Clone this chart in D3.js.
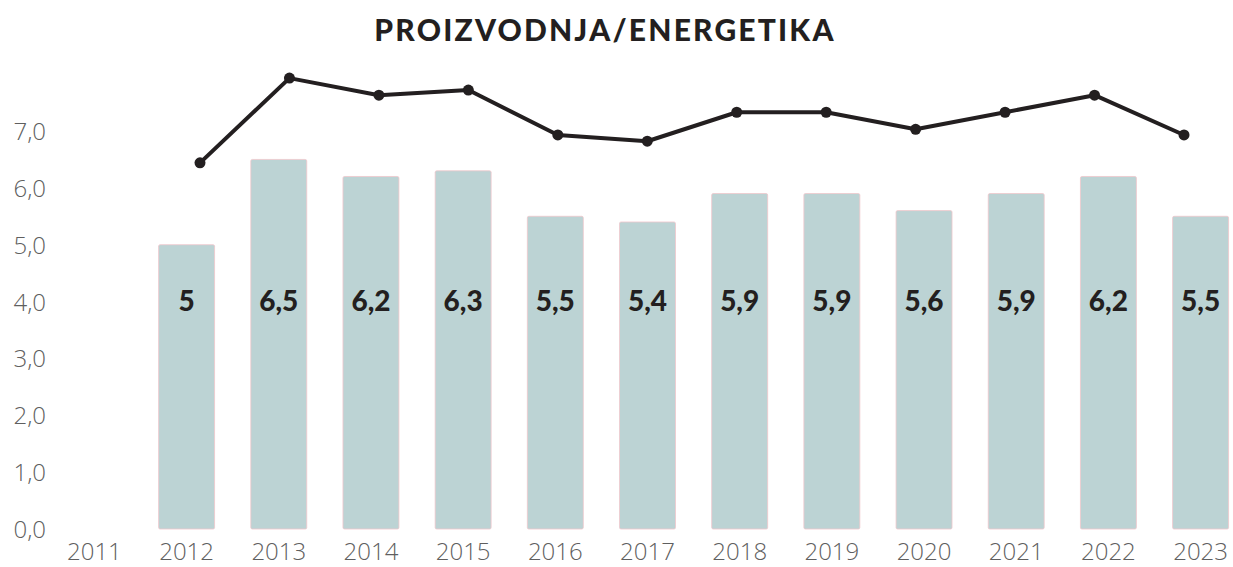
<!DOCTYPE html>
<html>
<head>
<meta charset="utf-8">
<script src="https://cdn.jsdelivr.net/npm/d3@7"></script>
<style>
  body { margin: 0; background: #fff; }
  .tick-label { font-family: "Open Sans", sans-serif; font-weight: 300; font-size: 24px; fill: #5f5f5f; }
  .title { font-family: Lato, sans-serif; font-weight: 900; font-size: 30px; fill: #231f20; letter-spacing: 2.2px; }
  .value-label { font-family: Lato, sans-serif; font-weight: 900; font-size: 28px; fill: #231f20; }
</style>
</head>
<body>
<script>
// Data
var years = ['2011', '2012', '2013', '2014', '2015', '2016', '2017', '2018', '2019', '2020', '2021', '2022', '2023'];
var barYears = ['2012', '2013', '2014', '2015', '2016', '2017', '2018', '2019', '2020', '2021', '2022', '2023'];
var barValues = [5, 6.5, 6.2, 6.3, 5.5, 5.4, 5.9, 5.9, 5.6, 5.9, 6.2, 5.5];
var lineValues = [6.44, 7.93, 7.63, 7.72, 6.93, 6.82, 7.33, 7.33, 7.03, 7.33, 7.63, 6.93];
var yTicks = [0, 1, 2, 3, 4, 5, 6, 7];
var title = 'PROIZVODNJA/ENERGETIKA';

var svg_width = 1233;
var svg_height = 567;

var svg = d3.select('body').append('svg')
  .attr('width', svg_width)
  .attr('height', svg_height);

// Scales
var y = d3.scaleLinear().domain([0, 7]).range([529, 131]);

var x = d3.scaleBand()
  .domain(years)
  .range([48, 1247])
  .paddingInner(0.393)
  .paddingOuter(0.2);

// the line sits on its own slightly narrower x range
var xLine = d3.scalePoint()
  .domain(barYears)
  .range([200, 1184]);

var fmt = function(v) { return d3.format('.1f')(v).replace('.', ','); };

// Title
svg.append('text')
  .attr('class', 'title')
  .attr('x', 605)
  .attr('y', 41)
  .attr('text-anchor', 'middle')
  .text(title);

// Y axis labels
svg.selectAll('text.y-label')
  .data(yTicks)
  .enter()
  .append('text')
  .attr('class', 'tick-label y-label')
  .attr('x', 46)
  .attr('y', function(d) { return y(d) + 9; })
  .attr('text-anchor', 'end')
  .text(fmt);

// X axis labels
svg.selectAll('text.x-label')
  .data(years)
  .enter()
  .append('text')
  .attr('class', 'tick-label x-label')
  .attr('x', function(d) { return x(d) + x.bandwidth() / 2; })
  .attr('y', 560)
  .attr('text-anchor', 'middle')
  .text(function(d) { return d; });

// Bars
svg.selectAll('rect.bar')
  .data(barValues)
  .enter()
  .append('rect')
  .attr('class', 'bar')
  .attr('x', function(d, i) { return x(barYears[i]); })
  .attr('y', function(d) { return y(d); })
  .attr('width', x.bandwidth())
  .attr('height', function(d) { return y(0) - y(d); })
  .attr('rx', 1.5)
  .attr('fill', '#bcd3d4')
  .attr('stroke', '#f0c6cb')
  .attr('stroke-width', 0.8);

// Value labels inside bars
svg.selectAll('text.value-label')
  .data(barValues)
  .enter()
  .append('text')
  .attr('class', 'value-label')
  .attr('x', function(d, i) { return x(barYears[i]) + x.bandwidth() / 2; })
  .attr('y', 311)
  .attr('text-anchor', 'middle')
  .text(function(d) { return String(d).replace('.', ','); });

// Line
var line = d3.line()
  .x(function(d, i) { return xLine(barYears[i]); })
  .y(function(d) { return y(d); });

svg.append('path')
  .datum(lineValues)
  .attr('d', line)
  .attr('fill', 'none')
  .attr('stroke', '#231f20')
  .attr('stroke-width', 4)
  .attr('stroke-linejoin', 'round');

svg.selectAll('circle.dot')
  .data(lineValues)
  .enter()
  .append('circle')
  .attr('class', 'dot')
  .attr('cx', function(d, i) { return xLine(barYears[i]); })
  .attr('cy', function(d) { return y(d); })
  .attr('r', 5.5)
  .attr('fill', '#231f20');
</script>
</body>
</html>
